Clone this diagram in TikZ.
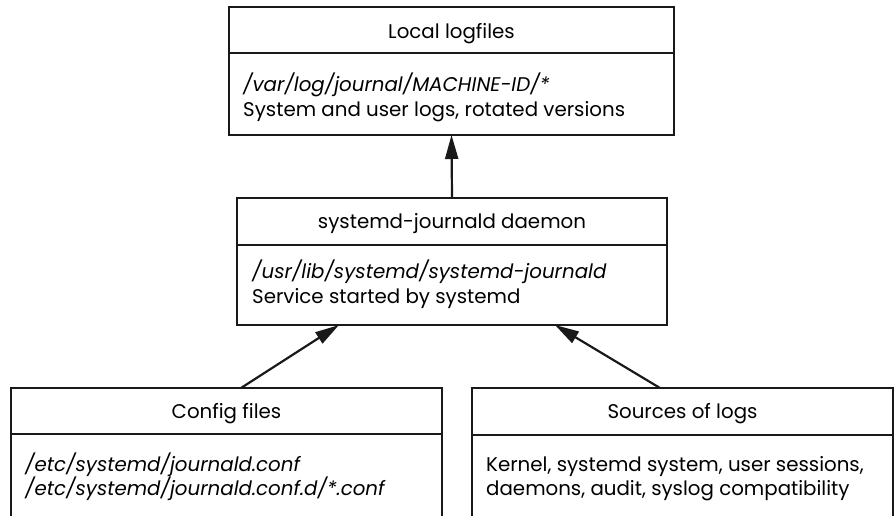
\documentclass[tikz,border=0pt]{standalone}
\usepackage{fontspec}
\setmainfont{Poppins}
\usetikzlibrary{arrows.meta}
\begin{document}
\begin{tikzpicture}[x=1pt,y=-1pt,
  box/.style={draw=black!90, line width=2.2pt, rectangle, inner sep=0pt, outer sep=0pt},
  divider/.style={draw=black!90, line width=2.2pt},
  title/.style={anchor=base, inner sep=0pt, font=\fontsize{19.8}{23}\selectfont},
  bodytxt/.style={anchor=base west, inner sep=0pt, font=\fontsize{19.8}{23}\selectfont},
  arr/.style={draw=black!90, line width=2.2pt, -{Triangle[length=24pt,width=13pt]}}]
\useasboundingbox (0,0) rectangle (894,515);
\clip (0,0) rectangle (894,515);
% boxes
\node[box, minimum width=445pt, minimum height=128pt] (logs) at (451.5,71) {};
\node[box, minimum width=430pt, minimum height=127pt] (daemon) at (452,261.5) {};
\node[box, minimum width=431pt, minimum height=160pt] (cfg) at (226.5,468) {};
\node[box, minimum width=421pt, minimum height=160pt] (src) at (682.5,468) {};
% dividers
\draw[divider] (logs.west |- 0,53) -- (logs.east |- 0,53);
\draw[divider] (daemon.west |- 0,245) -- (daemon.east |- 0,245);
\draw[divider] (cfg.west |- 0,434) -- (cfg.east |- 0,434);
\draw[divider] (src.west |- 0,435) -- (src.east |- 0,435);
% titles
\node[title] (logsT) at (451.5,38) {Local logfiles};
\node[title] (daemonT) at (452,228.5) {systemd-journald daemon};
\node[title] (cfgT) at (226.5,418.5) {Config files};
\node[title] (srcT) at (682.5,418.5) {Sources of logs};
% bodies
\node[bodytxt] (logsB1) at (243,91) {\itshape /var/log/journal/MACHINE-ID/*};
\node[bodytxt] (logsB2) at (243,116) {System and user logs, rotated versions};
\node[bodytxt] (daemonB1) at (252,278) {\itshape /usr/lib/systemd/systemd-journald};
\node[bodytxt] (daemonB2) at (252,303) {Service started by systemd};
\node[bodytxt] (cfgB1) at (25,471) {\itshape /etc/systemd/journald.conf};
\node[bodytxt] (cfgB2) at (25,495) {\itshape /etc/systemd/journald.conf.d/*.conf};
\node[bodytxt] (srcB1) at (486,471) {Kernel, systemd system, user sessions,};
\node[bodytxt] (srcB2) at (486,495) {daemons, audit, syslog compatibility};
% arrows
\draw[arr] (daemon.north) -- (logs.south);
\draw[arr] ([xshift=14.5pt]cfg.north) -- ([xshift=-113pt]daemon.south);
\draw[arr] ([xshift=-22.5pt]src.north) -- ([xshift=103pt]daemon.south);
\end{tikzpicture}
\end{document}
